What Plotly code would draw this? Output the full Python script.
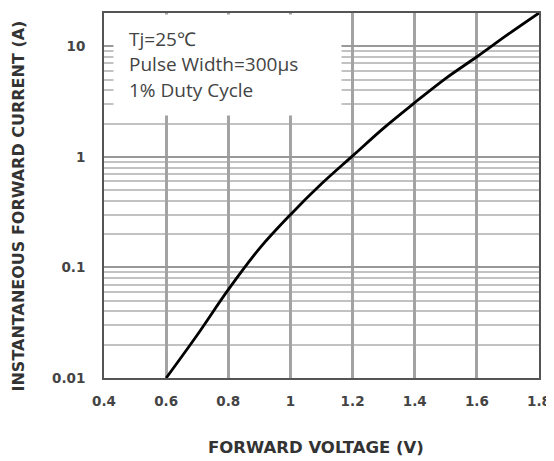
import plotly.graph_objects as go

# Data
voltage = [0.6, 0.7, 0.8, 0.9, 1.0, 1.1, 1.2, 1.3, 1.4, 1.5, 1.6, 1.7, 1.8]
current = [0.01, 0.0245, 0.063, 0.148, 0.30, 0.57, 1.02, 1.82, 3.09, 5.13, 8.04, 12.8, 20.0]

x_ticks = [0.4, 0.6, 0.8, 1.0, 1.2, 1.4, 1.6, 1.8]
x_tick_labels = ["0.4", "0.6", "0.8", "1", "1.2", "1.4", "1.6", "1.8"]
y_ticks = [0.01, 0.1, 1, 10]
y_tick_labels = ["0.01", "0.1", "1", "10"]

notes = ["Tj=25\u2103", "Pulse Width=300\u03bcs", "1% Duty Cycle"]

fig = go.Figure()
fig.add_trace(go.Scatter(
    x=voltage, y=current, mode="lines",
    line=dict(color="black", width=2.8, shape="spline", smoothing=1.0),
    showlegend=False, hoverinfo="skip",
))

tick_font = dict(family="DejaVu Sans", size=13.5, color="#444444", weight="bold")

# The page body has an 8px margin, so the figure is shifted by 8px; compensate.
fig.update_layout(
    width=546, height=453,
    margin=dict(l=96, r=13, t=3, b=83),
    paper_bgcolor="white", plot_bgcolor="white",
    xaxis=dict(
        range=[0.4, 1.8], tickvals=x_ticks, ticktext=x_tick_labels,
        showgrid=True, gridcolor="#a3a3a3", gridwidth=3,
        showline=True, linecolor="#555555", linewidth=2, mirror=True,
        ticks="", tickfont=tick_font, zeroline=False, ticklabelstandoff=10,
    ),
    yaxis=dict(
        type="log", range=[-2, 1.30103], tickvals=y_ticks, ticktext=y_tick_labels,
        showgrid=True, gridcolor="#999999", gridwidth=2,
        minor=dict(dtick="D1", showgrid=True, gridcolor="#c2c2c2", gridwidth=1.5, ticks=""),
        showline=True, linecolor="#555555", linewidth=2, mirror=True,
        ticks="", tickfont=tick_font, zeroline=False, ticklabelstandoff=14,
    ),
)

# White box behind the notes, covering the gridlines
fig.add_annotation(text=" ", xref="paper", yref="paper",
                   x=9 / 437, y=366 / 367, xanchor="left", yanchor="top",
                   width=227, height=100, bgcolor="white", borderpad=0,
                   showarrow=False)

note_y = [0.929, 0.860, 0.790]
for t, yy in zip(notes, note_y):
    fig.add_annotation(text=t, xref="paper", yref="paper",
                       x=23 / 437, y=yy, xanchor="left", yanchor="middle",
                       showarrow=False,
                       font=dict(family="Open Sans", size=19, color="#444444"))

title_font = dict(family="DejaVu Sans", size=16.5, color="#333333", weight="bold")
fig.add_annotation(text="FORWARD VOLTAGE (V)", xref="paper", yref="paper",
                   x=0.487, y=-70 / 367, xanchor="center", yanchor="middle", showarrow=False,
                   font=title_font)
fig.add_annotation(text="INSTANTANEOUS FORWARD CURRENT (A)", xref="paper", yref="paper",
                   x=-86 / 437, y=0.471, xanchor="center", yanchor="middle", showarrow=False,
                   textangle=-90, font=dict(family="DejaVu Sans", size=16, color="#333333",
                                            weight="bold"))

fig.write_html("out.html")
